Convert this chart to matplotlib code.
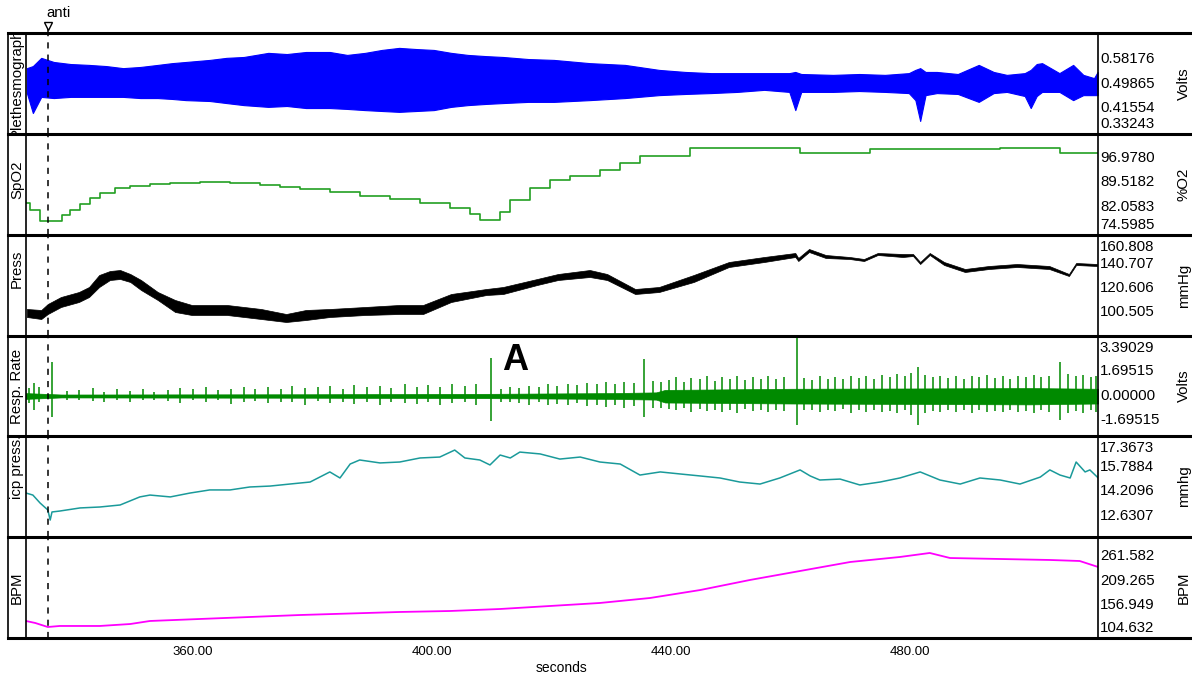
import numpy as np
import matplotlib
matplotlib.use('Agg')
import matplotlib.pyplot as plt
from matplotlib.lines import Line2D

plt.rcParams['font.family'] = ['Liberation Sans', 'DejaVu Sans']

# ---- time window (seconds) and event marker ----
t_start, t_end = 332.05, 511.46
t_anti = 335.7
x_ticks = [360, 400, 440, 480]

# ---- Plethysmograph (Volts): upper / lower envelope of the pulse wave ----
pleth_t = [332.2, 333.2, 334.6, 336.7, 339.5, 342.6, 345.5, 348.3, 351.2, 354.1, 356.5, 358.8,
           362.8, 365.6, 368.5, 372.6, 375.7, 378.9, 382.9, 385.8, 388.8, 391.6, 394.5, 397.4,
           400.3, 403.2, 406.0, 409.0, 411.9, 416.1, 420.4, 426.4, 432.3, 438.0, 442.4, 446.7,
           451.1, 455.6, 459.8, 460.8, 461.8, 467.1, 471.5, 475.8, 479.8, 480.9, 481.7, 482.6,
           484.5, 488.0, 491.5, 494.0, 496.2, 499.2, 500.2, 501.2, 502.1, 505.0, 507.3, 509.0,
           510.8, 511.4]
pleth_hi = [0.551, 0.558, 0.586, 0.572, 0.565, 0.562, 0.558, 0.551, 0.555, 0.562, 0.568, 0.572,
            0.579, 0.586, 0.589, 0.603, 0.599, 0.606, 0.606, 0.596, 0.603, 0.613, 0.620, 0.616,
            0.613, 0.603, 0.596, 0.592, 0.589, 0.582, 0.579, 0.568, 0.562, 0.545, 0.538, 0.534,
            0.534, 0.534, 0.534, 0.538, 0.531, 0.528, 0.531, 0.528, 0.534, 0.545, 0.551, 0.538,
            0.538, 0.531, 0.562, 0.538, 0.528, 0.534, 0.545, 0.565, 0.568, 0.534, 0.562, 0.528,
            0.517, 0.538]
pleth_lo = [0.466, 0.398, 0.453, 0.449, 0.453, 0.453, 0.453, 0.453, 0.449, 0.449, 0.446, 0.442,
            0.439, 0.432, 0.425, 0.419, 0.422, 0.415, 0.415, 0.412, 0.408, 0.405, 0.402, 0.405,
            0.408, 0.419, 0.425, 0.429, 0.432, 0.436, 0.436, 0.442, 0.449, 0.459, 0.463, 0.466,
            0.470, 0.477, 0.470, 0.408, 0.470, 0.470, 0.473, 0.470, 0.466, 0.442, 0.371, 0.459,
            0.466, 0.463, 0.436, 0.466, 0.470, 0.456, 0.415, 0.456, 0.470, 0.470, 0.442, 0.459,
            0.459, 0.459]
pleth_ticks = [0.58176, 0.49865, 0.41554, 0.33243]

# ---- SpO2 (%O2), stepped ----
spo2_t = [332.05, 332.7, 334.4, 338.1, 339.4, 341.1, 342.8, 344.4, 346.9, 349.5, 352.8, 356.2,
          361.2, 366.2, 371.2, 374.6, 377.9, 382.9, 387.9, 393.0, 398.0, 403.0, 406.4, 408.0,
          411.4, 413.1, 416.4, 419.7, 423.1, 428.1, 431.5, 434.8, 443.2, 461.6, 473.3, 495.1,
          505.1, 511.5]
spo2 = [83.28, 81.15, 77.80, 79.62, 81.15, 82.97, 84.80, 86.32, 87.84, 88.45, 89.06, 89.37,
        89.67, 89.37, 88.76, 88.15, 87.54, 86.63, 85.41, 84.50, 83.28, 81.75, 79.93, 78.10,
        80.54, 84.19, 87.84, 90.28, 91.50, 93.32, 95.46, 97.59, 100.02, 98.50, 99.72, 100.02,
        98.50, 98.50]
spo2_ticks = [96.9780, 89.5182, 82.0583, 74.5985]

# ---- Press (mmHg): band of the arterial pressure trace ----
press_t = [332.2, 334.6, 335.7, 337.9, 340.9, 342.6, 344.3, 346.1, 347.8, 349.5, 351.3, 354.1,
           357.0, 359.8, 365.7, 371.4, 375.6, 378.9, 382.9, 388.8, 394.5, 398.5, 403.2, 409.1,
           411.9, 417.6, 421.1, 426.4, 429.3, 434.0, 438.0, 443.8, 449.7, 455.6, 460.8, 461.3,
           463.1, 465.9, 469.9, 472.3, 474.6, 478.8, 480.5, 481.7, 483.3, 485.7, 489.2, 493.2,
           497.9, 503.3, 506.6, 507.8, 511.3]
press_hi = [103.38, 102.56, 107.48, 113.22, 117.32, 121.43, 131.27, 134.55, 135.37, 132.09,
            127.17, 117.32, 110.76, 106.66, 106.66, 103.38, 99.27, 102.56, 103.38, 105.02,
            106.66, 106.66, 115.68, 119.79, 121.43, 127.99, 132.09, 135.37, 132.09, 119.79,
            121.43, 131.27, 141.94, 146.04, 149.32, 145.22, 152.60, 147.68, 146.04, 144.40,
            149.32, 148.50, 148.50, 141.94, 149.32, 141.94, 136.19, 138.66, 140.30, 138.66,
            132.09, 141.12, 140.30]
press_lo = [96.81, 95.17, 99.27, 105.02, 109.12, 113.22, 121.43, 127.17, 127.99, 125.53,
            118.97, 110.76, 100.92, 98.45, 98.45, 95.17, 92.71, 94.35, 96.81, 98.45,
            99.27, 99.27, 109.12, 114.86, 115.68, 123.07, 127.17, 129.63, 127.17, 115.68,
            117.32, 125.53, 137.84, 141.94, 146.04, 142.76, 150.14, 145.22, 144.40, 142.76,
            147.68, 146.04, 146.86, 140.30, 147.68, 139.48, 133.73, 136.19, 137.84, 136.19,
            130.45, 139.48, 138.66]
press_ticks = [160.808, 140.707, 120.606, 100.505]

# ---- Resp. Rate (Volts): baseline noise band and individual deflections ----
resp_band_t = [332.0, 338.0, 380.0, 410.0, 430.0, 437.5, 439.0, 460.0, 480.0, 500.0, 511.5]
resp_band_hi = [0.20, 0.10, 0.12, 0.15, 0.20, 0.25, 0.42, 0.50, 0.52, 0.55, 0.50]
resp_band_lo = [-0.20, -0.10, -0.12, -0.15, -0.20, -0.25, -0.45, -0.52, -0.55, -0.58, -0.52]
resp_spk_t = [332.6, 333.4, 334.2, 336.4,
              338.9, 341.0, 343.2, 345.1, 347.3, 349.4, 351.6, 353.5, 355.8, 357.9, 360.0, 362.2,
              364.1, 366.3, 368.5, 370.4, 372.6, 374.7, 376.6, 378.8, 380.9, 383.0, 385.1, 387.0,
              389.2, 391.3, 393.2, 395.4, 397.5, 399.3, 401.4, 403.3, 405.5, 407.4, 409.9, 411.6,
              413.0, 414.5, 416.2, 417.9, 419.4, 421.0, 422.8, 424.3, 426.0, 427.6, 429.1, 430.7,
              432.2, 433.8, 435.5, 437.0, 438.4,
              439.6, 440.9, 442.1, 443.4, 444.8, 446.0, 447.3, 448.6, 449.9, 451.1, 452.4, 453.7,
              455.0, 456.3, 457.6, 458.9, 461.1, 462.3, 463.6, 464.9, 466.2, 467.5, 468.8, 470.1,
              471.4, 472.7, 474.0, 475.3, 476.6, 477.9, 479.2, 480.2, 481.3, 482.5, 483.8, 485.1,
              486.4, 487.7, 489.0, 490.3, 491.6, 492.9, 494.2, 495.5, 496.8, 498.1, 499.4, 500.7,
              502.0, 503.3, 505.1, 506.4, 507.7, 509.0, 510.3, 511.2]
resp_spk_hi = [0.55, 0.90, 0.60, 2.35,
               0.35, 0.40, 0.55, 0.30, 0.45, 0.35, 0.50, 0.30, 0.40, 0.55, 0.45, 0.60,
               0.40, 0.50, 0.65, 0.45, 0.60, 0.50, 0.70, 0.55, 0.60, 0.70, 0.50, 0.75,
               0.60, 0.70, 0.55, 0.80, 0.65, 0.75, 0.60, 0.80, 0.70, 0.85, 2.63, 0.50,
               0.60, 0.55, 0.70, 0.65, 0.80, 0.70, 0.85, 0.75, 0.90, 0.80, 0.95, 0.85,
               1.00, 0.90, 2.56, 1.05, 0.95,
               1.10, 1.30, 1.00, 1.25, 1.15, 1.35, 1.05, 1.30, 1.20, 1.40, 1.10, 1.30,
               1.20, 1.35, 1.15, 1.30, 4.15, 1.25, 1.10, 1.35, 1.20, 1.30, 1.15, 1.40,
               1.25, 1.35, 1.20, 1.45, 1.30, 1.50, 1.35, 1.60, 2.00, 1.45, 1.30, 1.40,
               1.25, 1.35, 1.20, 1.40, 1.30, 1.45, 1.25, 1.35, 1.20, 1.40, 1.30, 1.45,
               1.30, 1.40, 2.35, 1.50, 1.35, 1.45, 1.30, 1.40]
resp_spk_lo = [-0.50, -0.97, -0.40, -1.45,
               -0.30, -0.25, -0.35, -0.40, -0.30, -0.45, -0.30, -0.25, -0.35, -0.50, -0.30, -0.45,
               -0.30, -0.55, -0.40, -0.35, -0.50, -0.40, -0.45, -0.60, -0.35, -0.50, -0.45, -0.55,
               -0.40, -0.60, -0.45, -0.50, -0.55, -0.45, -0.60, -0.50, -0.45, -0.60, -1.73, -0.40,
               -0.45, -0.50, -0.60, -0.45, -0.60, -0.55, -0.65, -0.50, -0.70, -0.60, -0.75, -0.65,
               -0.80, -0.70, -1.45, -0.80, -0.85,
               -0.90, -1.00, -0.85, -1.10, -0.90, -1.05, -0.95, -1.10, -0.95, -1.15, -0.90, -1.05,
               -1.00, -1.10, -0.95, -1.05, -2.00, -1.00, -0.95, -1.10, -1.00, -1.05, -0.90, -1.15,
               -1.00, -1.10, -0.95, -1.10, -1.05, -1.20, -1.00, -1.30, -2.00, -1.15, -1.05, -1.10,
               -0.95, -1.10, -1.00, -1.15, -1.00, -1.10, -1.05, -1.10, -0.95, -1.10, -1.05, -1.15,
               -1.00, -1.10, -1.66, -1.20, -1.05, -1.15, -1.00, -1.10]
resp_ticks = [3.39029, 1.69515, 0.00000, -1.69515]

# ---- icp press. (mmhg) ----
icp_t = [332.05, 333.2, 334.4, 335.7, 336.1, 336.4, 337.7, 341.1, 344.4, 347.8, 351.1, 352.8,
         356.2, 359.5, 362.8, 366.2, 369.5, 372.9, 376.2, 379.6, 382.9, 384.6, 386.3, 387.9,
         391.3, 394.6, 398.0, 401.3, 403.8, 405.5, 408.0, 409.7, 411.4, 413.1, 414.7, 418.1,
         421.4, 424.8, 428.1, 431.5, 434.8, 438.2, 441.5, 444.9, 448.2, 451.5, 454.9, 458.2,
         461.6, 463.3, 464.9, 468.3, 471.6, 475.0, 478.3, 481.7, 485.0, 488.4, 491.7, 495.1,
         498.4, 501.8, 503.4, 505.1, 506.8, 507.8, 509.3, 510.1, 511.5]
icp = [14.11, 13.98, 13.47, 13.02, 12.37, 12.89, 12.95, 13.15, 13.21, 13.34, 13.86, 13.98,
       13.86, 14.11, 14.31, 14.31, 14.50, 14.56, 14.69, 14.82, 15.47, 15.08, 15.98, 16.24,
       16.05, 16.11, 16.37, 16.43, 16.88, 16.37, 16.24, 15.92, 16.56, 16.37, 16.75, 16.63,
       16.30, 16.43, 16.11, 15.98, 15.27, 15.47, 15.34, 15.21, 15.08, 14.82, 14.69, 15.08,
       15.60, 15.21, 14.95, 15.01, 14.63, 14.82, 15.08, 15.47, 14.95, 14.69, 15.08, 14.95,
       14.69, 15.14, 15.60, 15.27, 15.08, 16.11, 15.47, 15.60, 15.08]
icp_ticks = [17.3673, 15.7884, 14.2096, 12.6307]

# ---- BPM ----
bpm_t = [332.05, 333.6, 335.7, 337.7, 344.4, 349.5, 352.8, 361.2, 377.9, 394.6, 403.0, 411.4,
         419.7, 428.1, 436.5, 444.9, 453.2, 461.6, 470.0, 478.3, 483.3, 486.7, 495.1, 503.4,
         508.4, 511.5]
bpm = [122.9, 118.6, 110.0, 112.2, 112.2, 116.4, 122.9, 127.2, 135.7, 142.2, 144.3, 148.6,
       155.0, 161.5, 172.2, 189.3, 210.8, 230.1, 249.4, 260.1, 268.7, 257.9, 255.8, 253.7,
       251.5, 238.6]
bpm_ticks = [261.582, 209.265, 156.949, 104.632]

channel_names = ['Plethesmograph', 'SpO2', 'Press', 'Resp. Rate', 'icp press.', 'BPM']
channel_units = ['Volts', '%O2', 'mmHg', 'Volts', 'mmhg', 'BPM']
channel_ylims = [(0.3266, 0.6707), (73.533, 104.285), (81.224, 164.09),
                 (-2.768, 4.151), (11.277, 17.786), (86.41, 302.96)]
channel_ticks = [pleth_ticks, spo2_ticks, press_ticks, resp_ticks, icp_ticks, bpm_ticks]
tick_fmts = ['{:.5f}', '{:.4f}', '{:.3f}', '{:.5f}', '{:.4f}', '{:.3f}']
name_pos = [0.5, 0.545, 0.67, 0.5, 0.69, 0.5]

# ---- layout (pixels) ----
W, H = 1192, 679
row_edges = [33, 134, 235, 336, 436, 537, 638]
x_frame, x_plot, x_right = 8, 26, 1098
FS = 10.8

fig = plt.figure(figsize=(W / 100, H / 100), dpi=100)
fig.patch.set_facecolor('white')

axes = []
for i in range(6):
    top, bot = row_edges[i], row_edges[i + 1]
    ax = fig.add_axes([x_plot / W, 1 - bot / H, (x_right - x_plot) / W, (bot - top) / H])
    ax.set_xlim(t_start, t_end)
    ax.set_ylim(*channel_ylims[i])
    for s in ax.spines.values():
        s.set_visible(False)
    ax.set_xticks([])
    ax.set_yticks([])
    ax.axvline(t_anti, color='black', ls=(0, (4, 4)), lw=1.1, zorder=5)

    # value labels on the right, kept inside the strip
    lo, hi = channel_ylims[i]
    for v in channel_ticks[i]:
        f = (v - lo) / (hi - lo)
        f = min(max(f, 0.10), 0.885)
        ax.text(1.0018, f, tick_fmts[i].format(v), transform=ax.transAxes,
                ha='left', va='center', fontsize=FS, clip_on=False)
    fig.text(1184 / W, 1 - (top + bot) / 2 / H, channel_units[i], rotation=90,
             ha='center', va='center', fontsize=FS)

    # channel name in the narrow left column, clipped to its box
    lab = fig.add_axes([x_frame / W, 1 - bot / H, (x_plot - x_frame) / W, (bot - top) / H])
    lab.axis('off')
    t = lab.text(0.5, name_pos[i], channel_names[i], rotation=90, ha='center', va='center',
                 fontsize=FS, transform=lab.transAxes, clip_on=True)
    t.set_clip_box(lab.bbox)
    axes.append(ax)

ax1, ax2, ax3, ax4, ax5, ax6 = axes

ax1.fill_between(pleth_t, pleth_lo, pleth_hi, color='#0000ff', lw=0.8)
ax2.plot(spo2_t, spo2, drawstyle='steps-post', color='#22a022', lw=1.2)
ax3.fill_between(press_t, press_lo, press_hi, color='black', lw=0.5)
ax4.fill_between(resp_band_t, resp_band_lo, resp_band_hi, color='#008a00', lw=0.5)
ax4.plot([t_start, t_end], [0, 0], color='#008a00', lw=1.5)
ax4.vlines(resp_spk_t, resp_spk_lo, resp_spk_hi, color='#008a00', lw=1.1)
ax4.text(413.9, 2.49, 'A', fontsize=26, fontweight='bold', ha='center', va='center')
ax5.plot(icp_t, icp, color='#1a9a9a', lw=1.1)
ax6.plot(bpm_t, bpm, color='#ff00ff', lw=1.3)

# event marker above the first strip
tr = ax1.get_xaxis_transform()
ax1.plot([t_anti, t_anti], [1.0, 1.06], color='black', lw=1.1, transform=tr, clip_on=False)
ax1.plot([t_anti], [1.065], marker='v', ms=6, mfc='white', mec='black', mew=1,
         transform=tr, clip_on=False)
ax1.text(t_anti - 0.3, 1.2, 'anti', transform=tr, ha='left', va='center', fontsize=FS)

# time axis
ax6.set_xticks(x_ticks)
ax6.set_xticklabels(['{:.2f}'.format(v) for v in x_ticks], fontsize=9.5)
ax6.tick_params(axis='x', length=0, pad=6)
ax6.set_xlabel('seconds', fontsize=10, labelpad=2)

# strip frame
for y in row_edges:
    fig.add_artist(Line2D([x_frame / W, 1.0], [1 - y / H, 1 - y / H], color='black',
                          lw=2.2, transform=fig.transFigure))
for x in (x_frame, x_plot, x_right):
    fig.add_artist(Line2D([x / W, x / W], [1 - row_edges[0] / H, 1 - row_edges[-1] / H],
                          color='black', lw=1.2, transform=fig.transFigure))

fig.savefig('out.png', dpi=100, facecolor='white')
